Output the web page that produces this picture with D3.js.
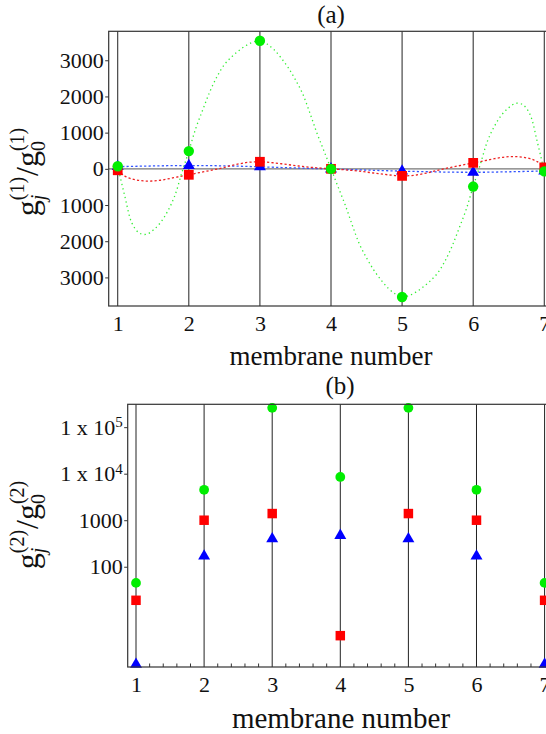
<!DOCTYPE html>
<html><head><meta charset="utf-8">
<script src="https://cdn.jsdelivr.net/npm/d3@7"></script>
<style>body{margin:0;background:#fff}svg{display:block}</style>
</head><body>
<script>
// ---------- data ----------
const membranes = [1, 2, 3, 4, 5, 6, 7];
// panel (a): g_j^(1)/g_0^(1)
const aGreen = [70, 490, 3540, 0, -3540, -490, -70];
const aRed   = [-40, -165, 195, 0, -195, 165, 40];
const aBlue  = [60, 90, 55, -5, -64, -96, -60];
const aYTicks = [-3000, -2000, -1000, 0, 1000, 2000, 3000];
// dotted continuous curves of panel (a)
const curveX = [1.0,1.1,1.2,1.3,1.4,1.5,1.6,1.7,1.8,1.9,2.0,2.1,2.2,2.3,2.4,2.5,2.6,2.7,2.8,2.9,3.0,3.1,3.2,3.3,3.4,3.5,3.6,3.7,3.8,3.9,4.0,4.1,4.2,4.3,4.4,4.5,4.6,4.7,4.8,4.9,5.0,5.1,5.2,5.3,5.4,5.5,5.6,5.7,5.8,5.9,6.0,6.1,6.2,6.3,6.4,6.5,6.6,6.7,6.8,6.9,7.0];
const curveGreen = [70,-760,-1500,-1770,-1810,-1690,-1490,-1180,-760,-120,490,1130,1650,2150,2560,2880,3090,3260,3400,3500,3540,3450,3290,3060,2790,2460,2080,1560,1000,500,0,-500,-1000,-1560,-2080,-2460,-2790,-3060,-3290,-3450,-3540,-3500,-3400,-3260,-3090,-2880,-2560,-2150,-1650,-1130,-490,120,760,1180,1490,1690,1810,1770,1500,760,-70];
const curveRed = [-40,-200,-280,-320,-338,-335,-315,-280,-240,-200,-165,-125,-85,-45,-5,40,90,135,170,190,195,185,165,140,115,90,65,45,28,14,0,-14,-28,-45,-65,-90,-115,-140,-165,-185,-195,-190,-170,-135,-90,-40,5,45,85,125,165,200,240,280,315,335,338,320,280,200,40];
const curveBlue = [60,64,68,72,76,80,83,86,88,89,90,90,89,87,85,82,78,73,68,62,55,49,43,37,31,25,19,13,7,1,-5,-11,-17,-23,-29,-35,-41,-47,-53,-59,-64,-69,-74,-78,-82,-86,-89,-92,-94,-95,-96,-95,-93,-90,-86,-82,-78,-74,-69,-64,-60];
// panel (b): g_j^(2)/g_0^(2), log scale
const bGreen = [45, 4500, 260000, 8500, 260000, 4500, 45];
const bRed   = [19, 1000, 1390, 3.3, 1390, 1000, 19];
const bBlue  = [0.8, 169, 398, 469, 398, 169, 0.8];
const bYTicks = [100, 1000, 10000, 100000];
const minorTicksB = [1.2,1.4,1.6,1.8,2.2,2.4,2.6,2.8,3.2,3.4,3.6,3.8,4.2,4.4,4.6,4.8,5.2,5.4,5.6,5.8,6.2,6.4,6.6,6.8];

// ---------- drawing ----------
const W = 546, H = 734;
const FONT = "'Liberation Serif','Times New Roman',serif";
const GREEN = "#00ee00", RED = "#ff0000", BLUE = "#0000ff";
const svg = d3.select("body").append("svg").attr("width", W).attr("height", H)
  .style("font-family", FONT);

function yLabel(cx, cy, n) {
  const g = svg.append("g").attr("transform", `translate(${cx},${cy}) rotate(-90)`);
  const inner = g.append("g");
  let x = 0;
  const main = 32, small = 20;
  function put(t, size, dy, italic) {
    const el = inner.append("text").attr("x", x).attr("y", dy)
      .attr("font-size", size).attr("font-style", italic ? "italic" : "normal")
      .attr("fill", "#111").text(t);
    return el.node().getComputedTextLength();
  }
  function stack(sup, sub, subItalic) {
    const w1 = put(sup, small, -14, false);
    const w2 = put(sub, small, 7, subItalic);
    x += Math.max(w1, w2);
  }
  x += put("g", main, 0, false);
  stack(`(${n})`, "j", true);
  x += 1;
  x += put("/", main, 0, false);
  x += put("g", main, 0, false);
  stack(`(${n})`, "0", false);
  inner.attr("transform", `translate(${-x / 2},0)`);
}

function markers(g, xs, ys, xScale, yScale, kind, color, size) {
  const sym = kind === "circle" ? d3.symbolCircle : kind === "square" ? d3.symbolSquare : d3.symbolTriangle;
  g.selectAll(null).data(xs.map((m, i) => [m, ys[i]])).join("path")
    .attr("transform", d => `translate(${xScale(d[0])},${yScale(d[1])})`)
    .attr("d", d3.symbol().type(sym).size(size))
    .attr("fill", color);
}

// ===== Panel (a) =====
{
  const left = 108.7, right = 553.3, top = 31.3, bottom = 306;
  const x = d3.scaleLinear().domain([0.873, 7.127]).range([left, right]);
  const y = d3.scaleLinear().domain([-3790, 3800]).range([bottom, top]);
  const g = svg.append("g");
  g.append("text").attr("x", 331).attr("y", 22.5).attr("text-anchor", "middle")
    .attr("font-size", 25).attr("fill", "#111").text("(a)");
  // vertical membrane lines
  g.selectAll(null).data(membranes).join("line")
    .attr("x1", d => x(d)).attr("x2", d => x(d)).attr("y1", top).attr("y2", bottom)
    .attr("stroke", "#222").attr("stroke-width", 1);
  // zero line
  g.append("line").attr("x1", left).attr("x2", right).attr("y1", y(0)).attr("y2", y(0))
    .attr("stroke", "#777").attr("stroke-width", 1.4);
  // curves
  const line = (vals) => d3.line().x((d, i) => x(curveX[i])).y(d => y(d)).curve(d3.curveCatmullRom)(vals);
  g.append("path").attr("d", line(curveBlue)).attr("fill", "none").attr("stroke", "#3355ff")
    .attr("stroke-width", 1.3).attr("stroke-dasharray", "2.2,2.2");
  g.append("path").attr("d", line(curveRed)).attr("fill", "none").attr("stroke", "#ee2222")
    .attr("stroke-width", 1.3).attr("stroke-dasharray", "2.2,2.2");
  g.append("path").attr("d", line(curveGreen)).attr("fill", "none").attr("stroke", "#33ee33")
    .attr("stroke-width", 1.3).attr("stroke-dasharray", "1.3,3.2");
  // markers
  markers(g, membranes, aBlue, x, y, "triangle", BLUE, 62);
  markers(g, membranes, aRed, x, y, "square", RED, 95);
  markers(g, membranes, aGreen, x, y, "circle", GREEN, 85);
  // frame
  g.append("rect").attr("x", left).attr("y", top).attr("width", right - left).attr("height", bottom - top)
    .attr("fill", "none").attr("stroke", "#333").attr("stroke-width", 1.2);
  // axes
  const ay = g.append("g").attr("transform", `translate(${left},0)`)
    .call(d3.axisLeft(y).tickValues(aYTicks).tickSize(3.5).tickPadding(1.5).tickFormat(d => String(Math.abs(d))));
  ay.select(".domain").remove();
  ay.selectAll("text").attr("font-size", 22).attr("font-family", FONT).attr("fill", "#111");
  ay.selectAll("line").attr("stroke", "#333");
  const ax = g.append("g").attr("transform", `translate(0,${bottom})`)
    .call(d3.axisBottom(x).tickValues(membranes).tickSize(0).tickPadding(9).tickFormat(d3.format("d")));
  ax.select(".domain").remove();
  ax.selectAll("text").attr("font-size", 22).attr("font-family", FONT).attr("fill", "#111");
  g.append("text").attr("x", 331).attr("y", 365).attr("text-anchor", "middle")
    .attr("font-size", 27).attr("fill", "#111").text("membrane number");
  yLabel(38, 172, 1);
}

// ===== Panel (b) =====
{
  const left = 127.7, right = 552.9, top = 404.3, bottom = 667;
  const x = d3.scaleLinear().domain([0.878, 7.122]).range([left, right]);
  const y = d3.scaleLog().domain([0.7, 310000]).range([bottom, top]);
  const g = svg.append("g");
  g.append("text").attr("x", 340).attr("y", 394).attr("text-anchor", "middle")
    .attr("font-size", 25).attr("fill", "#111").text("(b)");
  g.selectAll(null).data(membranes).join("line")
    .attr("x1", d => x(d)).attr("x2", d => x(d)).attr("y1", top).attr("y2", bottom)
    .attr("stroke", "#222").attr("stroke-width", 1);
  markers(g, membranes, bBlue, x, y, "triangle", BLUE, 62);
  markers(g, membranes, bRed, x, y, "square", RED, 90);
  markers(g, membranes, bGreen, x, y, "circle", GREEN, 75);
  g.append("rect").attr("x", left).attr("y", top).attr("width", right - left).attr("height", bottom - top)
    .attr("fill", "none").attr("stroke", "#333").attr("stroke-width", 1.2);
  // minor inward ticks on bottom
  g.selectAll(null).data(minorTicksB).join("line")
    .attr("x1", d => x(d)).attr("x2", d => x(d)).attr("y1", bottom).attr("y2", bottom - 3.5)
    .attr("stroke", "#333").attr("stroke-width", 1);
  const ay = g.append("g").attr("transform", `translate(${left},0)`)
    .call(d3.axisLeft(y).tickValues(bYTicks).tickSize(3.5).tickPadding(1.5).tickFormat(d => String(d)));
  ay.select(".domain").remove();
  ay.selectAll("line").attr("stroke", "#333");
  ay.selectAll("text").attr("font-size", 22).attr("font-family", FONT).attr("fill", "#111")
    .each(function (d) {
      if (d >= 10000) {
        const t = d3.select(this);
        t.text(null);
        t.append("tspan").text("1 x 10");
        t.append("tspan").attr("font-size", 15).attr("dy", "-0.5em").text(String(Math.round(Math.log10(d))));
      }
    });
  const ax = g.append("g").attr("transform", `translate(0,${bottom})`)
    .call(d3.axisBottom(x).tickValues(membranes).tickSize(0).tickPadding(9).tickFormat(d3.format("d")));
  ax.select(".domain").remove();
  ax.selectAll("text").attr("font-size", 22).attr("font-family", FONT).attr("fill", "#111");
  g.append("text").attr("x", 341).attr("y", 728).attr("text-anchor", "middle")
    .attr("font-size", 29).attr("fill", "#111").text("membrane number");
  yLabel(38, 525, 2);
}
</script>
</body></html>
